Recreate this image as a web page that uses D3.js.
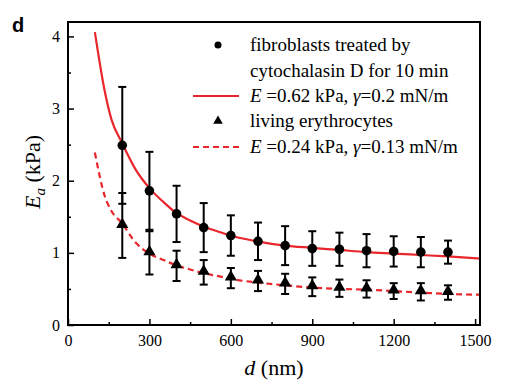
<!DOCTYPE html>
<html>
<head>
<meta charset="utf-8">
<script src="https://cdn.jsdelivr.net/npm/d3@7"></script>
<style>
  body { margin: 0; background: #fff; }
  text { font-family: "Liberation Serif", "DejaVu Serif", serif; fill: #000; }
</style>
</head>
<body>
<div id="chart"></div>
<script>
const fullwidth = 522;
const fullheight = 386;
const margin = {top: 22, right: 42, bottom: 61, left: 68};
const width = fullwidth - margin.left - margin.right;
const height = fullheight - margin.top - margin.bottom;

// measured points (d in nm, Ea in kPa, error half-width)
const dValues = [200, 300, 400, 500, 600, 700, 800, 900, 1000, 1100, 1200, 1300, 1400];
const fibroMean = [2.49, 1.86, 1.54, 1.35, 1.24, 1.16, 1.10, 1.06, 1.05, 1.03, 1.02, 1.01, 1.01];
const fibroErr = [0.81, 0.54, 0.39, 0.34, 0.28, 0.26, 0.27, 0.24, 0.23, 0.23, 0.21, 0.21, 0.16];
const eryMean = [1.38, 1.00, 0.82, 0.73, 0.65, 0.61, 0.57, 0.53, 0.51, 0.50, 0.47, 0.46, 0.45];
const eryErr = [0.45, 0.30, 0.21, 0.17, 0.14, 0.14, 0.14, 0.13, 0.12, 0.12, 0.11, 0.12, 0.10];

// fitted curves
const fitD = [99, 136, 160, 197, 250, 304, 353, 396, 450, 497, 550, 598, 696, 800, 898, 1000, 1100, 1200, 1300, 1400, 1518];
const fitFibro = [4.06, 3.23, 2.85, 2.54, 2.15, 1.88, 1.70, 1.56, 1.45, 1.37, 1.30, 1.24, 1.16, 1.10, 1.07, 1.04, 1.01, 0.99, 0.97, 0.95, 0.92];
const fitEry = [2.39, 1.78, 1.58, 1.42, 1.14, 0.98, 0.90, 0.83, 0.77, 0.72, 0.68, 0.64, 0.59, 0.55, 0.52, 0.50, 0.49, 0.47, 0.45, 0.43, 0.42];

const xTicks = [0, 300, 600, 900, 1200, 1500];
const yTicks = [0, 1, 2, 3, 4];

const red = "#e8262b";

const svg = d3.select("#chart")
  .append("svg")
  .attr("width", fullwidth)
  .attr("height", fullheight);

const g = svg.append("g").attr("transform", `translate(${margin.left},${margin.top})`);

const x = d3.scaleLinear().domain([0, 1518]).range([0, width]);
const y = d3.scaleLinear().domain([0, 4.2]).range([height, 0]);

// fit curves
const line = d3.line()
  .x(d => x(d[0]))
  .y(d => y(d[1]))
  .curve(d3.curveMonotoneX);

g.append("path")
  .datum(fitD.map((d, i) => [d, fitFibro[i]]))
  .attr("fill", "none")
  .attr("stroke", red)
  .attr("stroke-width", 2.2)
  .attr("d", line);

g.append("path")
  .datum(fitD.map((d, i) => [d, fitEry[i]]))
  .attr("fill", "none")
  .attr("stroke", red)
  .attr("stroke-width", 2.2)
  .attr("stroke-dasharray", "6,4")
  .attr("d", line);

// error bars
function errorBars(means, errs) {
  const bars = g.append("g")
    .selectAll("g")
    .data(dValues.map((d, i) => ({d, m: means[i], e: errs[i]})))
    .enter().append("g")
    .attr("stroke", "#000")
    .attr("stroke-width", 2);
  bars.append("line")
    .attr("x1", d => x(d.d)).attr("x2", d => x(d.d))
    .attr("y1", d => y(d.m - d.e)).attr("y2", d => y(d.m + d.e));
  bars.append("line")
    .attr("x1", d => x(d.d) - 4).attr("x2", d => x(d.d) + 4)
    .attr("y1", d => y(d.m + d.e)).attr("y2", d => y(d.m + d.e));
  bars.append("line")
    .attr("x1", d => x(d.d) - 4).attr("x2", d => x(d.d) + 4)
    .attr("y1", d => y(d.m - d.e)).attr("y2", d => y(d.m - d.e));
}
errorBars(fibroMean, fibroErr);
errorBars(eryMean, eryErr);

const circleSym = d3.symbol().type(d3.symbolCircle).size(72);
const triSym = d3.symbol().type(d3.symbolTriangle).size(64);

g.append("g").selectAll("path")
  .data(dValues)
  .enter().append("path")
  .attr("d", circleSym)
  .attr("transform", (d, i) => `translate(${x(d)},${y(fibroMean[i])})`)
  .attr("fill", "#000");

g.append("g").selectAll("path")
  .data(dValues)
  .enter().append("path")
  .attr("d", triSym)
  .attr("transform", (d, i) => `translate(${x(d)},${y(eryMean[i]) - 1})`)
  .attr("fill", "#000");

// axes with inward ticks
const xAxis = g.append("g")
  .attr("transform", `translate(0,${height})`)
  .call(d3.axisBottom(x).tickValues(xTicks).tickSize(-6).tickPadding(10).tickFormat(d3.format("d")));
const xMinor = g.append("g")
  .attr("transform", `translate(0,${height})`)
  .call(d3.axisBottom(x).tickValues([150, 450, 750, 1050, 1350]).tickSize(-3).tickFormat(""));
const yAxis = g.append("g")
  .call(d3.axisLeft(y).tickValues(yTicks).tickSize(-6).tickPadding(8).tickFormat(d3.format("d")));
const yMinor = g.append("g")
  .call(d3.axisLeft(y).tickValues([0.5, 1.5, 2.5, 3.5]).tickSize(-3).tickFormat(""));

[xAxis, xMinor, yAxis, yMinor].forEach(a => {
  a.attr("font-family", null);
  a.select(".domain").remove();
  a.selectAll(".tick line").attr("stroke", "#000").attr("stroke-width", 1.5);
  a.selectAll("text").style("font-size", "16px").attr("fill", "#000");
});

// frame
g.append("rect")
  .attr("width", width).attr("height", height)
  .attr("fill", "none").attr("stroke", "#000").attr("stroke-width", 2);

// axis titles
const xt = svg.append("text")
  .attr("x", margin.left + width / 2)
  .attr("y", 375)
  .attr("text-anchor", "middle")
  .style("font-size", "22px");
xt.append("tspan").style("font-style", "italic").text("d");
xt.append("tspan").text(" (nm)");

const yt = svg.append("text")
  .attr("transform", `translate(40,172) rotate(-90)`)
  .attr("text-anchor", "middle")
  .style("font-size", "22px");
yt.append("tspan").style("font-style", "italic").text("E");
yt.append("tspan").style("font-style", "italic").style("font-size", "15px").attr("dy", 5).text("a");
yt.append("tspan").attr("dy", -5).text(" (kPa)");

// panel letter
svg.append("text")
  .attr("x", 12).attr("y", 32)
  .style("font-family", "Liberation Sans, Arial, sans-serif")
  .style("font-weight", "bold")
  .style("font-size", "20px")
  .text("d");

// legend
const legend = svg.append("g").attr("class", "legend");
const lx = 250, sx = 218;
const rows = [45, 71, 96, 121, 147];

legend.append("circle").attr("cx", sx).attr("cy", rows[0]).attr("r", 3.5).attr("fill", "#000");
legend.append("line").attr("x1", 193).attr("x2", 239).attr("y1", rows[2]).attr("y2", rows[2])
  .attr("stroke", red).attr("stroke-width", 2);
legend.append("path").attr("d", d3.symbol().type(d3.symbolTriangle).size(40))
  .attr("transform", `translate(${sx},${rows[3]})`).attr("fill", "#000");
legend.append("line").attr("x1", 193).attr("x2", 239).attr("y1", rows[4]).attr("y2", rows[4])
  .attr("stroke", red).attr("stroke-width", 2).attr("stroke-dasharray", "6,4");

function legendText(yy) {
  return legend.append("text").attr("x", lx).attr("y", yy + 6).style("font-size", "19px");
}
legendText(rows[0]).text("fibroblasts treated by");
legendText(rows[1]).text("cytochalasin D for 10 min");
let t = legendText(rows[2]);
t.append("tspan").style("font-style", "italic").text("E");
t.append("tspan").text(" =0.62 kPa, ");
t.append("tspan").style("font-style", "italic").text("γ");
t.append("tspan").text("=0.2 mN/m");
legendText(rows[3]).text("living erythrocytes");
t = legendText(rows[4]);
t.append("tspan").style("font-style", "italic").text("E");
t.append("tspan").text(" =0.24 kPa, ");
t.append("tspan").style("font-style", "italic").text("γ");
t.append("tspan").text("=0.13 mN/m");
</script>
</body>
</html>
